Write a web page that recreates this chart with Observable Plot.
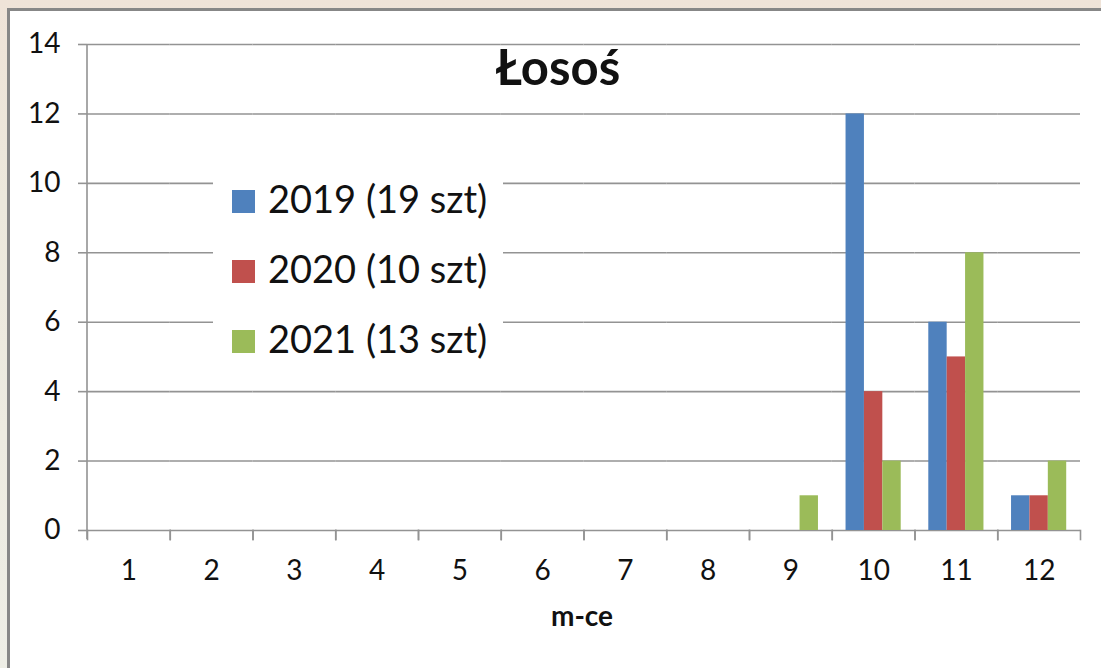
<!DOCTYPE html>
<html>
<head>
<meta charset="utf-8">
<script src="https://cdn.jsdelivr.net/npm/d3@7"></script>
<script src="https://cdn.jsdelivr.net/npm/@observablehq/plot@0.6"></script>
<style>
  html, body { margin: 0; padding: 0; }
  body { width: 1101px; height: 668px; overflow: hidden; position: relative;
         background: linear-gradient(180deg, #efe3d8 0%, #ece8dc 30%, #eeeee6 100%);
         font-family: Lato, "Open Sans", sans-serif; color: #111; }
  #panel { position: absolute; left: 7px; top: 8px; width: 1094px; height: 660px;
           background: #fff; border-left: 3px solid #878787; border-top: 3px solid #878787; box-sizing: border-box; }
  #chart { position: absolute; left: 0; top: 0; width: 1101px; height: 668px; }
  .title { position: absolute; left: 458px; width: 200px; text-align: center; top: 42px;
           font-size: 49px; font-weight: 700; line-height: 1; white-space: nowrap; }
  .xlabel { position: absolute; left: 482px; width: 200px; text-align: center; top: 601px;
            font-size: 28px; font-weight: 700; line-height: 1; white-space: nowrap; }
  #legend { position: absolute; left: 213px; top: 160px; width: 290px; height: 205px; background: #fff; }
  .row { position: absolute; left: 0; height: 40px; }
  .sw { position: absolute; left: 19px; width: 23px; height: 23px; }
  .lt { position: absolute; left: 55px; font-size: 38px; line-height: 1; white-space: nowrap; }
</style>
</head>
<body>
<div id="panel"></div>
<div id="chart"></div>
<div class="title">Łosoś</div>
<div class="xlabel">m-ce</div>
<div id="legend"></div>
<script>
const months = [1, 2, 3, 4, 5, 6, 7, 8, 9, 10, 11, 12];
const years = ["2019", "2020", "2021"];
const legendLabels = ["2019 (19 szt)", "2020 (10 szt)", "2021 (13 szt)"];
const colors = ["#4f81bd", "#c0504d", "#9bbb59"];
const v2019 = [0, 0, 0, 0, 0, 0, 0, 0, 0, 12, 6, 1];
const v2020 = [0, 0, 0, 0, 0, 0, 0, 0, 0, 4, 5, 1];
const v2021 = [0, 0, 0, 0, 0, 0, 0, 0, 1, 2, 8, 2];
const yTicks = [0, 2, 4, 6, 8, 10, 12, 14];

const series = [v2019, v2020, v2021];
const data = [];
months.forEach((m, i) => years.forEach((y, j) => data.push({month: m, year: y, value: series[j][i]})));

const W = 1101, H = 668;
const mTop = 44, mBottom = 138, mLeft = 87, mRight = 21;
const innerH = H - mTop - mBottom;
const bandW = (W - mLeft - mRight) / months.length;
const gridColor = "#939393";

// vertical axis line lives in the first month facet, spanning the y domain
const axisLineData = [{month: months[0], y1: yTicks[0], y2: yTicks[yTicks.length - 1]}];

const chart = Plot.plot({
  width: W, height: H,
  marginTop: mTop, marginBottom: mBottom, marginLeft: mLeft, marginRight: mRight,
  style: {background: "transparent", fontFamily: "Lato, 'Open Sans', sans-serif", color: "#111", maxWidth: "none"},
  fx: {domain: months, padding: 0, round: false, label: null},
  x: {domain: years, paddingInner: 0, paddingOuter: 0.75, round: false, axis: null},
  y: {domain: [0, 14], label: null},
  color: {domain: years, range: colors},
  marks: [
    Plot.ruleY(yTicks, {stroke: gridColor, strokeWidth: 1.6}),
    Plot.barY(data, {fx: "month", x: "year", y: "value", fill: "year"}),
    Plot.rect(axisLineData, {fx: "month", y1: "y1", y2: "y2", fill: gridColor,
                             insetLeft: -0.8, insetRight: bandW - 0.8, insetBottom: -9}),
    Plot.frame({anchor: "left", stroke: gridColor, strokeWidth: 1.6, insetTop: innerH, insetBottom: -9}),
    Plot.frame({anchor: "right", stroke: gridColor, strokeWidth: 1.6, insetTop: innerH, insetBottom: -9}),
    Plot.axisY({ticks: yTicks, anchor: "left", tickSize: 9, tickPadding: 18, fontSize: 28,
                stroke: gridColor, strokeWidth: 1.6, fill: "#111", label: null, tickFormat: d => String(d)}),
    Plot.axisFx({anchor: "bottom", tickSize: 0, tickPadding: 30, fontSize: 28, fill: "#111", label: null})
  ]
});
document.getElementById("chart").appendChild(chart);

const legend = document.getElementById("legend");
legendLabels.forEach((lab, i) => {
  const row = document.createElement("div");
  row.className = "row";
  row.style.top = (i * 70) + "px";
  const sw = document.createElement("div");
  sw.className = "sw";
  sw.style.top = "30px";
  sw.style.background = colors[i];
  const t = document.createElement("div");
  t.className = "lt";
  t.style.top = "19px";
  t.textContent = lab;
  row.appendChild(sw);
  row.appendChild(t);
  legend.appendChild(row);
});
</script>
</body>
</html>
